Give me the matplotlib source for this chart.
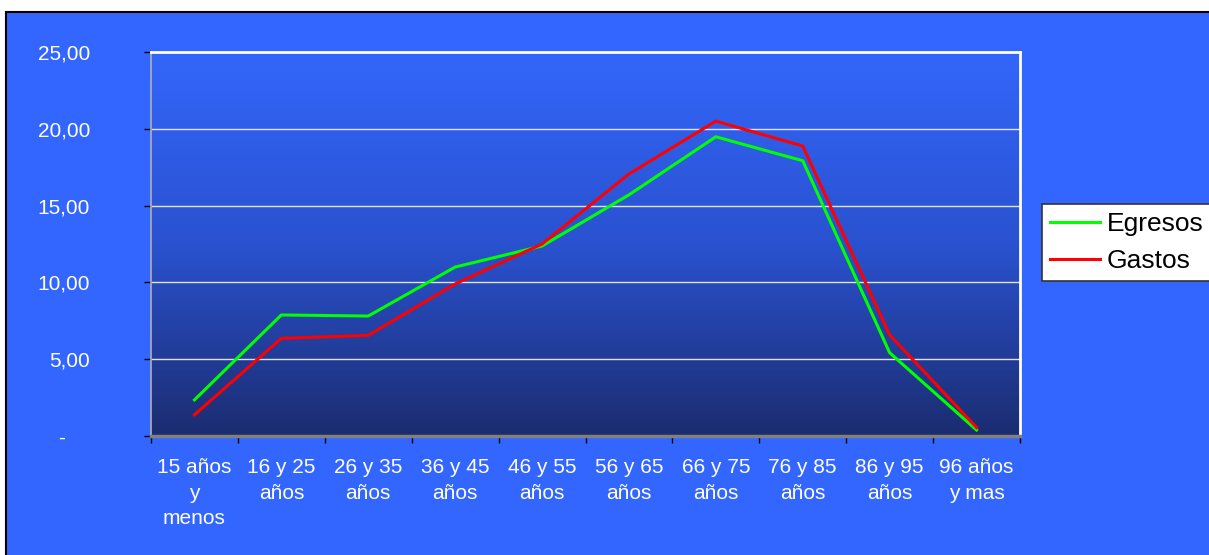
import numpy as np
import matplotlib
matplotlib.use("Agg")
import matplotlib.pyplot as plt
from matplotlib.patches import Rectangle
from matplotlib.colors import LinearSegmentedColormap
from matplotlib.transforms import ScaledTranslation

plt.rcParams['font.family'] = ['Liberation Sans', 'DejaVu Sans']

# Datos por grupo de edad (porcentaje)
grupos = ["15 años\ny\nmenos", "16 y 25\naños", "26 y 35\naños", "36 y 45\naños",
          "46 y 55\naños", "56 y 65\naños", "66 y 75\naños", "76 y 85\naños",
          "86 y 95\naños", "96 años\ny mas"]
egresos = [2.35, 7.88, 7.81, 11.0, 12.37, 15.7, 19.48, 17.92, 5.42, 0.39]
gastos = [1.38, 6.36, 6.55, 9.9, 12.5, 17.06, 20.5, 18.88, 6.58, 0.55]
ticks_y = [0, 5, 10, 15, 20, 25]
etiquetas_y = ["-", "5,00", "10,00", "15,00", "20,00", "25,00"]

fondo = "#3366FF"
fig = plt.figure(figsize=(12.09, 5.55), dpi=100)
fig.patch.set_facecolor("white")
fig.patches.append(Rectangle((6 / 1209, -0.01), 1.1, (555 - 12) / 555 + 0.01,
                             transform=fig.transFigure, facecolor=fondo,
                             edgecolor="black", linewidth=1.5, zorder=-1))

ax = fig.add_axes([151 / 1209, 1 - 436 / 555, 869 / 1209, 384 / 555])
ax.set_zorder(1)
ax.set_xlim(-0.5, len(grupos) - 0.5)
ax.set_ylim(0, 25)

# degradado del área de trazado
cmap = LinearSegmentedColormap.from_list("deg", ["#1b2c70", "#2a52d0", "#3366fb"])
grad = np.linspace(0, 1, 256).reshape(-1, 1)
ax.imshow(grad, cmap=cmap, aspect="auto", origin="lower",
          extent=(-0.5, len(grupos) - 0.5, 0, 25), zorder=0)

for v in ticks_y[1:-1]:
    ax.axhline(v, color="white", lw=1.0, alpha=0.85, zorder=1)

x = np.arange(len(grupos))
ax.plot(x, egresos, color="#00ff00", lw=2.2, label="Egresos", zorder=3)
ax.plot(x, gastos, color="#ff0000", lw=2.2, label="Gastos", zorder=4)

ax.spines["top"].set_color("white")
ax.spines["top"].set_linewidth(2)
ax.spines["right"].set_color("white")
ax.spines["right"].set_linewidth(2)
ax.spines["left"].set_color("#b0b0b0")
ax.spines["left"].set_linewidth(1.2)
ax.spines["bottom"].set_color("#808080")
ax.spines["bottom"].set_linewidth(2.5)

ax.set_yticks(ticks_y)
ax.set_yticklabels(etiquetas_y)
ax.tick_params(axis="y", colors="black", labelcolor="white", labelsize=15,
               length=5, width=1, pad=39)
# el guion del cero queda más a la izquierda
lbl0 = ax.get_yticklabels()[0]
lbl0.set_transform(lbl0.get_transform() + ScaledTranslation(-25 / 100, 0, fig.dpi_scale_trans))

ax.set_xticks(np.arange(-0.5, len(grupos), 1.0))
ax.set_xticklabels([])
ax.set_xticks(x, minor=True)
ax.set_xticklabels(grupos, minor=True, color="white", fontsize=15, linespacing=1.42)
ax.tick_params(axis="x", which="major", colors="black", length=5, width=1)
ax.tick_params(axis="x", which="minor", length=0, pad=16)

leg = fig.legend(loc="upper left", bbox_to_anchor=(1042 / 1209, 1 - 204 / 555),
                 fontsize=19, frameon=True, fancybox=False, borderpad=0.3,
                 handlelength=1.9, handletextpad=0.25, labelspacing=0.5,
                 borderaxespad=0)
leg.get_frame().set_edgecolor("#333333")
leg.get_frame().set_linewidth(1.2)
leg.get_frame().set_facecolor("white")
leg.get_frame().set_alpha(1)

fig.savefig("out.png", dpi=100, facecolor=fig.get_facecolor())
